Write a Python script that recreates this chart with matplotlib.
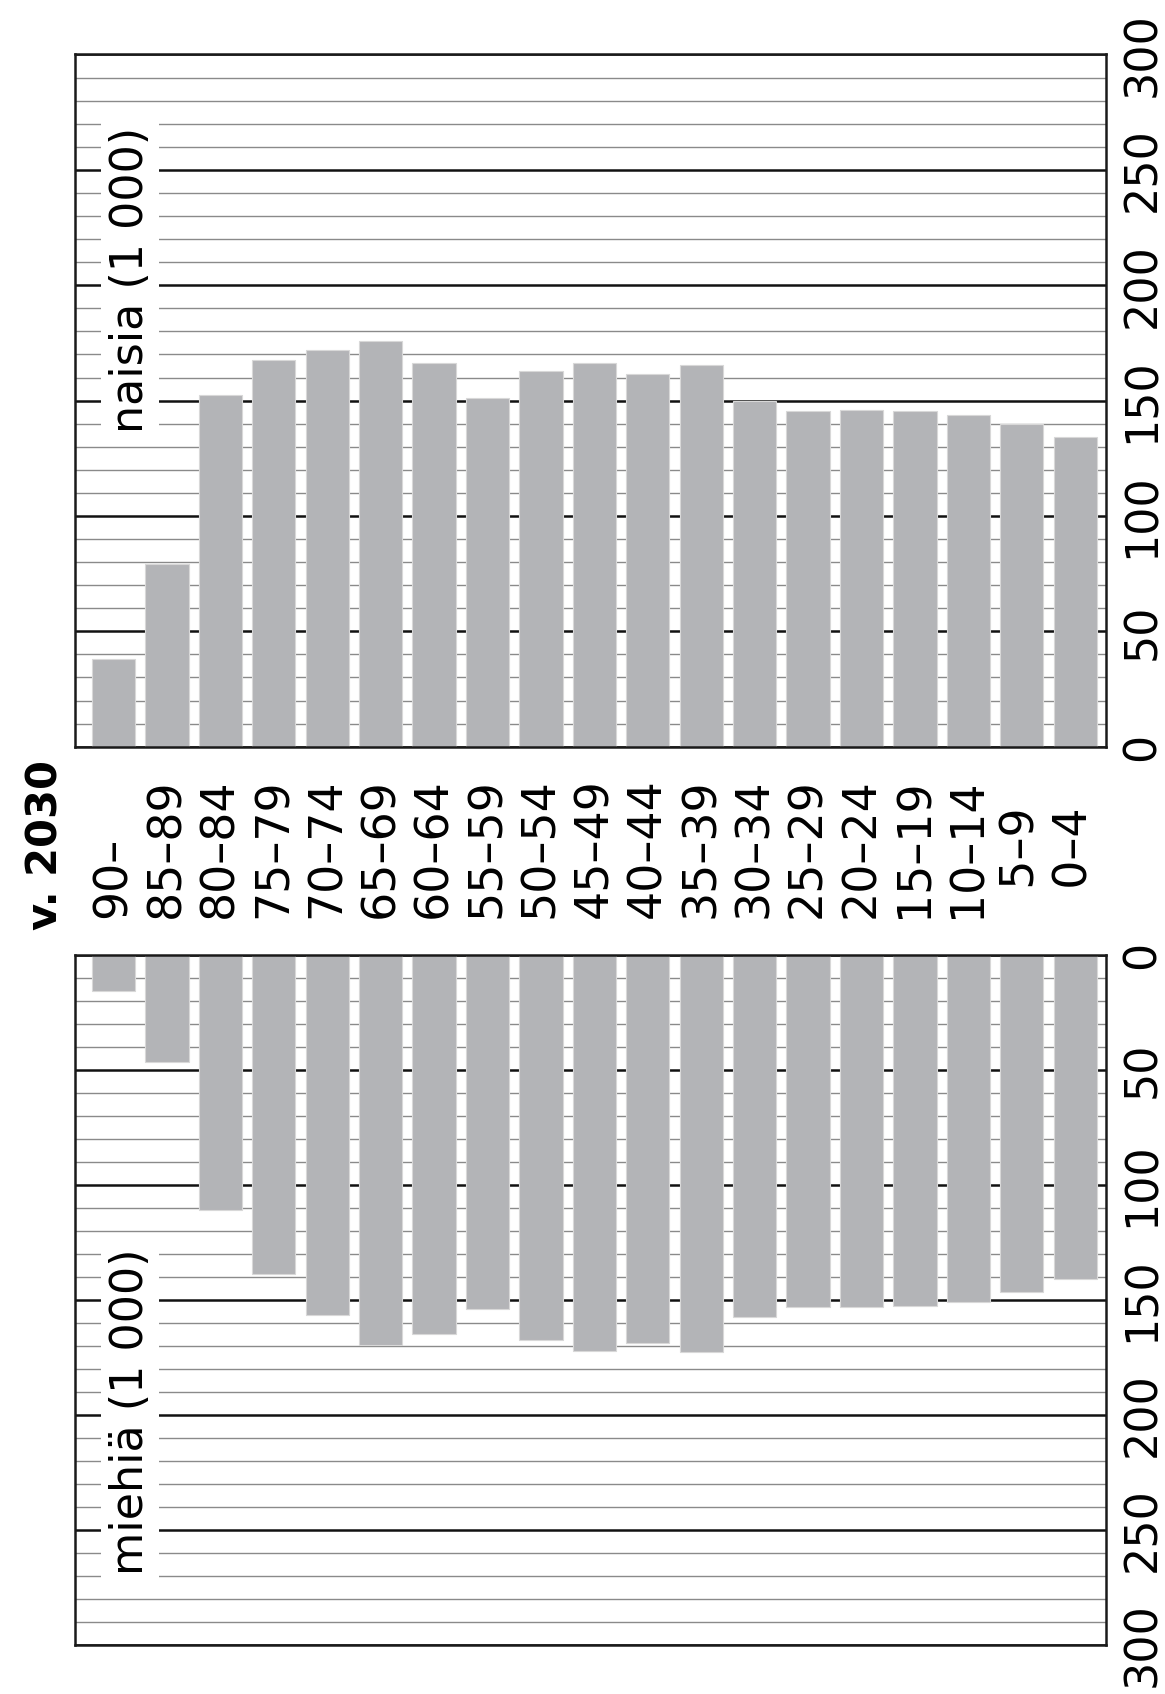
import matplotlib
matplotlib.use("Agg")
import matplotlib.pyplot as plt
import numpy as np
from matplotlib.ticker import MultipleLocator, FixedLocator
from matplotlib.transforms import blended_transform_factory

# Age groups, oldest first (figure space keeps the single-digit groups aligned)
age_groups = ["90–", "85–89", "80–84", "75–79", "70–74", "65–69", "60–64",
              "55–59", "50–54", "45–49", "40–44", "35–39", "30–34", "25–29",
              "20–24", "15–19", "10–14", "\u20075–9", "\u20070–4"]

# Population in thousands, year 2030
women = [37.9, 79.1, 152.5, 167.8, 172.0, 176.0, 166.3, 151.0, 163.0, 166.2,
         161.4, 165.5, 149.9, 145.5, 146.0, 145.7, 143.9, 139.7, 134.4]
men = [15.7, 46.7, 111.0, 138.8, 156.4, 169.4, 164.6, 153.8, 167.4, 172.3,
       168.8, 172.7, 157.4, 152.9, 152.9, 152.6, 150.9, 146.7, 140.9]

value_ticks = [0, 50, 100, 150, 200, 250, 300]
title = "v. 2030"
women_label = "naisia (1 000)"
men_label = "miehiä (1 000)"

BAR = "#b3b4b7"
TICK_FS = 32
CAT_FS = 33
LABEL_FS = 32

W, H = 1165, 1694
fig = plt.figure(figsize=(W / 100, H / 100), dpi=100)
fig.patch.set_facecolor("white")

def frac_box(left, top, right, bottom):
    return [left / W, 1 - bottom / H, (right - left) / W, (bottom - top) / H]

ax_w = fig.add_axes(frac_box(75, 54.5, 1105.7, 746.7))
ax_m = fig.add_axes(frac_box(75, 955, 1105.7, 1645))

x = np.arange(len(age_groups))

def style_axis(ax):
    ax.set_xlim(-0.72, len(age_groups) - 1 + 0.57)
    ax.set_xticks([])
    ax.yaxis.tick_right()
    ax.yaxis.set_major_locator(FixedLocator(value_ticks))
    ax.yaxis.set_minor_locator(MultipleLocator(10))
    ax.set_yticklabels([str(v) for v in value_ticks])
    ax.tick_params(axis="y", which="both", length=0, pad=11,
                   labelsize=TICK_FS, labelrotation=90)
    for lab in ax.get_yticklabels():
        lab.set_va("center")
    ax.set_axisbelow(True)
    ax.grid(which="minor", axis="y", color="#8a8a8a", lw=1.0)
    ax.grid(which="major", axis="y", color="#111111", lw=1.8)
    for s in ax.spines.values():
        s.set_linewidth(1.8)
        s.set_color("#1a1a1a")

# Women: bars grow upwards
ax_w.bar(x, women, width=0.81, color=BAR, edgecolor="#d8d8d8",
         linewidth=0.8, zorder=2)
ax_w.set_ylim(0, 300)
style_axis(ax_w)

# Men: bars grow downwards from the top spine
ax_m.bar(x, men, width=0.81, color=BAR, edgecolor="#d8d8d8",
         linewidth=0.8, zorder=2)
ax_m.set_ylim(300, 0)
style_axis(ax_m)

# Panel labels with white backing over the grid
box = dict(facecolor="white", edgecolor="none", pad=5)
ax_w.text(0.31, 136, women_label, rotation=90, rotation_mode="anchor",
          ha="left", va="center", fontsize=LABEL_FS, bbox=box, zorder=5)
ax_m.text(0.31, 269.6, men_label, rotation=90, rotation_mode="anchor",
          ha="left", va="center", fontsize=LABEL_FS, bbox=box, zorder=5)

# Age group labels between the panels
tr = blended_transform_factory(ax_w.transData, fig.transFigure)
label_y = 1 - 918 / H
for xi, lab in zip(x, age_groups):
    fig.text(xi, label_y, lab, transform=tr, rotation=90,
             rotation_mode="anchor", ha="left", va="center", fontsize=CAT_FS)

fig.text(45 / W, 1 - 930 / H, title, rotation=90, rotation_mode="anchor",
         ha="left", va="center", fontsize=30, fontweight="bold")

fig.savefig("out.png", dpi=100, facecolor="white")
